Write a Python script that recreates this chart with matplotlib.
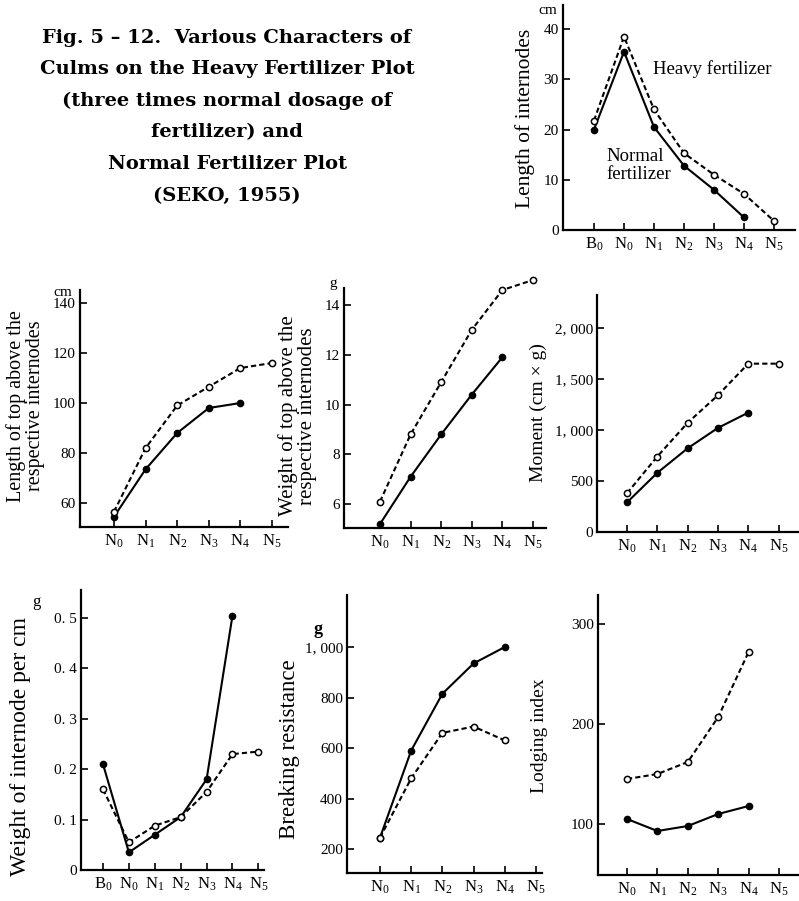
import matplotlib
matplotlib.use("Agg")
import matplotlib.pyplot as plt

plt.rcParams["font.family"] = ["Liberation Serif", "DejaVu Serif"]
plt.rcParams["mathtext.fontset"] = "custom"
plt.rcParams["mathtext.rm"] = "Liberation Serif"
plt.rcParams["mathtext.it"] = "Liberation Serif:italic"

W, H = 799, 901

# ---- data ----
nodes_b = ["B$_0$", "N$_0$", "N$_1$", "N$_2$", "N$_3$", "N$_4$", "N$_5$"]
nodes_n = ["N$_0$", "N$_1$", "N$_2$", "N$_3$", "N$_4$", "N$_5$"]

internode_len_normal = [20, 35.5, 20.5, 12.8, 8, 2.5]
internode_len_heavy = [21.8, 38.5, 24, 15.3, 11, 7.2, 1.8]

top_len_normal = [54.5, 73.5, 88, 98, 100]
top_len_heavy = [56.5, 82, 99, 106.5, 114, 116]

top_wt_normal = [5.2, 7.1, 8.8, 10.4, 11.9]
top_wt_heavy = [6.1, 8.8, 10.9, 13.0, 14.6, 15.0]

moment_normal = [290, 580, 820, 1020, 1170]
moment_heavy = [380, 740, 1070, 1340, 1650, 1650]

wt_per_cm_normal = [0.21, 0.035, 0.07, 0.105, 0.18, 0.505]
wt_per_cm_heavy = [0.16, 0.055, 0.088, 0.105, 0.155, 0.23, 0.235]

breaking_normal = [245, 590, 815, 935, 1000]
breaking_heavy = [245, 480, 660, 685, 630]

lodging_normal = [105, 93, 98, 110, 118]
lodging_heavy = [145, 150, 162, 207, 272]

title_lines = [
    "Fig. 5 \u2013 12.  Various Characters of",
    "Culms on the Heavy Fertilizer Plot",
    "(three times normal dosage of",
    "fertilizer) and",
    "Normal Fertilizer Plot",
    "(SEKO, 1955)",
]

fig = plt.figure(figsize=(W / 100, H / 100), dpi=100)
fig.patch.set_facecolor("white")


def px_axes(left, top, right, bottom):
    return fig.add_axes([left / W, 1 - bottom / H, (right - left) / W, (bottom - top) / H])


def panel(box, x0_px, step_px, ylim, yticks, yticklabels, labels, normal, heavy):
    ax = px_axes(*box)
    left, top, right, bottom = box
    ax.set_xlim((left - x0_px) / step_px, (right - x0_px) / step_px)
    ax.set_ylim(*ylim)
    for s in ["top", "right"]:
        ax.spines[s].set_visible(False)
    for s in ["left", "bottom"]:
        ax.spines[s].set_linewidth(1.6)
    ax.set_xticks(range(len(labels)))
    ax.set_xticklabels(labels, fontsize=12)
    ax.set_yticks(yticks)
    ax.set_yticklabels(yticklabels, fontsize=11)
    ax.tick_params(direction="in", length=5, width=1.2, pad=4)
    ax.tick_params(axis="y", pad=3)
    ax.plot(range(len(normal)), normal, "-", color="black", lw=1.5,
            marker="o", ms=4.5, mfc="black", mec="black", clip_on=False, zorder=3)
    ax.plot(range(len(heavy)), heavy, color="black", lw=1.5, ls=(0, (2.5, 1.5)),
            marker="o", ms=4.5, mfc="white", mec="black", mew=1.1, clip_on=False, zorder=3)
    return ax


def ftext(x, y, s, **kw):
    fig.text(x / W, 1 - y / H, s, **kw)


# title block
for i, line in enumerate(title_lines):
    ftext(227, 38 + i * 31.5, line, ha="center", va="center",
          fontsize=14, fontweight="bold", family="DejaVu Serif")

# top right: length of internodes
ax = panel((563, 5, 795, 230), 594, 30, (0, 44.8), [0, 10, 20, 30, 40],
           ["0", "10", "20", "30", "40"], nodes_b,
           internode_len_normal, internode_len_heavy)
ax.text(3.93, 32, "Heavy fertilizer", ha="center", va="center", fontsize=13.5)
ax.text(0.43, 12.8, "Normal\nfertilizer", ha="left", va="center", fontsize=13.5,
        linespacing=1.1)
ftext(525, 118, "Length of internodes", rotation=90, ha="center", va="center", fontsize=15.5)
ftext(548, 10, "cm", ha="center", va="center", fontsize=11)

# middle row
panel((80, 290, 288, 527), 114, 31.6, (50.4, 145.2), [60, 80, 100, 120, 140],
      ["60", "80", "100", "120", "140"], nodes_n, top_len_normal, top_len_heavy)
ftext(26, 406, "Length of top above the\nrespective internodes", rotation=90,
      ha="center", va="center", fontsize=14.5, linespacing=1.0)
ftext(63, 292, "cm", ha="center", va="center", fontsize=11)

panel((344, 288, 546, 528), 380, 30.6, (5.04, 14.68), [6, 8, 10, 12, 14],
      ["6", "8", "10", "12", "14"], nodes_n, top_wt_normal, top_wt_heavy)
ftext(298, 416, "Weight of top above the\nrespective internodes", rotation=90,
      ha="center", va="center", fontsize=15, linespacing=1.0)
ftext(333, 283, "g", ha="center", va="center", fontsize=11)

panel((597, 295, 799, 532), 627, 30.3, (0, 2323), [0, 500, 1000, 1500, 2000],
      ["0", "500", "1, 000", "1, 500", "2, 000"], nodes_n, moment_normal, moment_heavy)
ftext(538, 413, "Moment (cm \u00d7 g)", rotation=90, ha="center", va="center", fontsize=14)

# bottom row
panel((81, 590, 264, 870), 103, 25.9, (0, 0.5556), [0, 0.1, 0.2, 0.3, 0.4, 0.5],
      ["0", "0. 1", "0. 2", "0. 3", "0. 4", "0. 5"], nodes_b,
      wt_per_cm_normal, wt_per_cm_heavy)
ftext(21, 746, "Weight of internode per cm", rotation=90, ha="center", va="center", fontsize=17)
ftext(36, 602, "g", ha="center", va="center", fontsize=12)

panel((347, 595, 542, 873), 380, 31.2, (105, 1206), [200, 400, 600, 800, 1000],
      ["200", "400", "600", "800", "1, 000"], nodes_n, breaking_normal, breaking_heavy)
ftext(289, 749, "Breaking resistance", rotation=90, ha="center", va="center", fontsize=16.5)
ftext(318, 630, "g", ha="center", va="center", fontsize=13, fontweight="bold")

panel((598, 595, 799, 875), 627, 30.4, (49, 329), [100, 200, 300],
      ["100", "200", "300"], nodes_n, lodging_normal, lodging_heavy)
ftext(540, 736, "Lodging index", rotation=90, ha="center", va="center", fontsize=14)

fig.savefig("out.png", dpi=100, facecolor="white")
